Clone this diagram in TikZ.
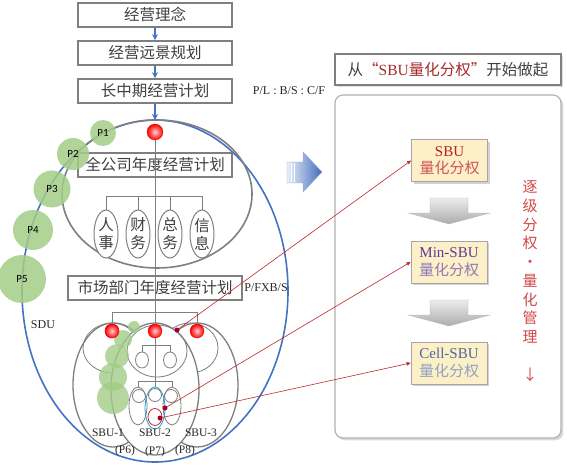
\documentclass[tikz,border=0pt]{standalone}
\usepackage{fontspec}
\setmainfont{Liberation Serif}
\newfontfamily\cjk{Noto Sans CJK SC}
\newfontfamily\lbl{Carlito}
\usetikzlibrary{shapes.geometric,shadows,arrows.meta}

\definecolor{boxgray}{HTML}{7F7F7F}
\definecolor{txtgray}{HTML}{404040}
\definecolor{sdublue}{HTML}{4472C4}
\definecolor{pgreen}{HTML}{A3CC87}
\definecolor{linkred}{HTML}{C0272D}
\definecolor{dotred}{HTML}{A50021}
\definecolor{cream}{HTML}{FDEFC8}
\definecolor{titlered}{HTML}{A52A2A}
\definecolor{sbured}{HTML}{B42323}
\definecolor{sbupink}{HTML}{D05555}
\definecolor{minpurple}{HTML}{5B3C99}
\definecolor{minlilac}{HTML}{8C7AB8}
\definecolor{cellblue}{HTML}{4A6A9A}
\definecolor{cellgray}{HTML}{8FA2BF}
\definecolor{stepred}{HTML}{D04A4A}

\tikzset{
  planbox/.style={draw=boxgray, line width=1.6pt, fill=white, minimum width=154pt,
    minimum height=24pt, inner sep=0pt, text=txtgray, font=\cjk\fontsize{15.5}{18}\selectfont},
  flow/.style={sdublue, line width=1.5pt, -{Stealth[length=6pt,width=6pt]}},
  dept/.style={ellipse, draw=boxgray, line width=1pt, fill=white, minimum width=24pt,
    minimum height=48pt, inner sep=0pt, align=center, text=txtgray,
    font=\cjk\fontsize{15.5}{18}\selectfont},
  tree/.style={draw=boxgray, line width=0.8pt},
  sbuline/.style={draw=boxgray, line width=1.3pt},
  reddot/.style={circle, minimum size=#1, inner sep=0pt, shading=radial,
    inner color=white!80!red, outer color=red, draw=red!85!black, line width=0.3pt},
  keydot/.style={circle, fill=dotred, minimum size=5pt, inner sep=0pt},
  pcircle/.style={circle, fill=pgreen, fill opacity=0.85, text opacity=1, minimum size=#1,
    inner sep=0pt, font=\lbl\fontsize{11}{11}\selectfont},
  tag/.style={inner sep=0pt, text=black!85, font=\fontsize{12}{12}\selectfont},
  unitbox/.style={draw=gray!70, fill=cream, line width=0.8pt, minimum width=76pt,
    minimum height=42pt, inner sep=0pt, align=center, font=\fontsize{15}{17.5}\selectfont,
    drop shadow={opacity=0.35}},
  link/.style={linkred, line width=0.6pt, -{Triangle[length=4pt,width=3.5pt]}},
}

\begin{document}
\begin{tikzpicture}[x=1pt,y=-1pt]
\useasboundingbox (0,0) rectangle (567,465);

% SDU and company plan
\draw[sdublue, line width=1.6pt] (155,291) ellipse [x radius=133, y radius=171];
\draw[boxgray, line width=1.6pt] (157,194) ellipse [x radius=95, y radius=74];
\coordinate (corptop) at (155,120);

\node[planbox] (idea) at (155,15) {经营理念};
\node[planbox] (vision) at (155,53) {经营远景规划};
\node[planbox] (midplan) at (155,91) {长中期经营计划};
\node[planbox] (corpplan) at (155,165) {全公司年度经营计划};
\node[planbox, minimum width=174pt] (mktplan) at (155,288) {市场部门年度经营计划};

\node[tag] (plbs) at (289,91) {P/L : B/S : C/F};
\node[tag] (pfxb) at (266,288) {P/FXB/S};
\node[tag] (sdu) at (43,325) {SDU};

\draw[flow] (idea) -- (vision);
\draw[flow] (vision) -- (midplan);
\draw[flow] (midplan) -- (corptop);

\node[dept] (hr) at (106,234) {人\\事};
\node[dept] (fin) at (138,234) {财\\务};
\node[dept] (gen) at (170,234) {总\\务};
\node[dept] (info) at (202,234) {信\\息};
\draw[tree] (hr.north) -- ++(0,-13) -| (info.north);
\draw[tree] (fin.north) -- ++(0,-13);
\draw[tree] (gen.north) -- ++(0,-13);

% SBU ellipses
\filldraw[sbuline, fill=white] (113,385) ellipse [x radius=40, y radius=62];
\filldraw[sbuline, fill=white] (197,385) ellipse [x radius=41, y radius=62];
\draw[tree] (113,348) ellipse [x radius=30, y radius=25];
\draw[tree] (190,348) ellipse [x radius=28, y radius=25];
\filldraw[sbuline, fill=white] (155,389) ellipse [x radius=44, y radius=66];
\draw[tree] (157,351) ellipse [x radius=30, y radius=26];

\node[reddot=16pt] (top) at (155,132) {};
\node[reddot=14pt] (s1) at (112,331) {};
\node[reddot=14pt] (s2) at (155,331) {};
\node[reddot=14pt] (s3) at (197,331) {};
\draw[tree] (top) -- (s2);
\draw[tree] (s1.north) -- ++(0,-11) -| (s3.north);

% inside SBU-2
\node[ellipse, tree, minimum width=13pt, minimum height=16pt, inner sep=0pt] (u1) at (142,360) {};
\node[ellipse, tree, minimum width=13pt, minimum height=16pt, inner sep=0pt] (u2) at (170,360) {};
\draw[tree] (u1.north) -- ++(0,-6) -| (u2.north);
\node[ellipse, tree, minimum width=18pt, minimum height=38pt, inner sep=0pt] (l1) at (138,406) {};
\node[ellipse, tree, minimum width=18pt, minimum height=38pt, inner sep=0pt] (l3) at (172,406) {};
\node[ellipse, draw=cyan!70!teal, line width=0.8pt, minimum width=20pt, minimum height=42pt, inner sep=0pt] (l2) at (155,408) {};
\draw[tree] (l1.north) -- ++(0,-5) -| (l3.north);
\draw[tree] (s2) -- (l2.north);
\draw[tree] (139,396) circle (6.5);
\draw[tree] (155,395) circle (6.5);
\draw[tree] (171,396) circle (6.5);
\draw[linkred, line width=0.8pt] (155,417) ellipse [x radius=7, y radius=8.5];

% P circles
\node[pcircle=26pt] (p1) at (103,133) {P1};
\node[pcircle=32pt] (p2) at (73,154) {P2};
\node[pcircle=37pt] (p3) at (52,189) {P3};
\node[pcircle=40pt] (p4) at (33,230) {P4};
\node[pcircle=48pt] (p5) at (22,279) {P5};
\foreach \gx/\gy/\gr in {134/327/6, 123/339/9, 117/356/12, 113/377/14, 113/398/16}
  \fill[pgreen, opacity=0.8] (\gx,\gy) circle (\gr);
\node[reddot=14pt] at (s1) {};

\node[keydot] (k1) at (177,330) {};
\node[keydot] (k2) at (165,408) {};
\node[keydot] (k3) at (160,418) {};

\node[tag, font=\fontsize{11.5}{12}\selectfont] (sbu1) at (108,433) {SBU-1};
\node[tag, font=\fontsize{11.5}{12}\selectfont] (sbu2) at (155,433) {SBU-2};
\node[tag, font=\fontsize{11.5}{12}\selectfont] (sbu3) at (201,433) {SBU-3};
\node[tag, font=\fontsize{11.5}{12}\selectfont] (p6) at (125,451) {(P6)};
\node[tag, font=\fontsize{11.5}{12}\selectfont] (p7) at (155,452) {(P7)};
\node[tag, font=\fontsize{11.5}{12}\selectfont] (p8) at (185,451) {(P8)};

% blue arrow
\shade[left color=sdublue!12, right color=sdublue!95!black, draw=sdublue!60, line width=0.4pt]
  (287,162) -- (303,162) -- (303,152) -- (322,172) -- (303,192) -- (303,183) -- (287,183) -- cycle;
\draw[white, line width=0.8pt] (291,163) -- (291,182) (294,163) -- (294,182);

% right panel
\node[draw=boxgray, line width=1.6pt, fill=white, minimum width=226pt, minimum height=31pt,
  inner sep=0pt, text=txtgray, font=\cjk\fontsize{15.5}{18}\selectfont, drop shadow={opacity=0.25}] (head)
  at (448,69.5) {从{\color{titlered}“{\rmfamily SBU}量化分权”}开始做起};
\node[draw=gray!60, line width=1.2pt, fill=white, rounded corners=8pt, minimum width=226pt,
  minimum height=343pt, drop shadow={opacity=0.3}] (panel) at (448,266.5) {};

\node[unitbox] (sbu) at (449.5,160.5)
  {{\color{sbured}SBU}\\{\color{sbupink}\cjk 量化分权}};
\node[unitbox] (minsbu) at (449,262)
  {{\color{minpurple}Min-SBU}\\{\color{minlilac}\cjk 量化分权}};
\node[unitbox] (cellsbu) at (449,363)
  {{\color{cellblue}Cell-SBU}\\{\color{cellgray}\cjk 量化分权}};

\shade[top color=gray!15, bottom color=gray!65, draw=gray!55, line width=0.3pt]
  (430,198) -- (468,198) -- (468,213) -- (490,213) -- (449,224) -- (408,213) -- (430,213) -- cycle;
\shade[top color=gray!15, bottom color=gray!65, draw=gray!55, line width=0.3pt]
  (430,300) -- (468,300) -- (468,315) -- (490,315) -- (449,326) -- (408,315) -- (430,315) -- cycle;

\node[inner sep=0pt, align=center, text=stepred, font=\cjk\fontsize{15}{18.75}\selectfont] (steps)
  at (530,262) {逐\\级\\分\\权\\·\\量\\化\\管\\理};
\node[inner sep=0pt, text=stepred, font=\cjk\fontsize{15}{18}\selectfont] (stepdown) at (530,375) {↓};

% links
\draw[link] (k1) -- (sbu.west);
\draw[link] (k2) -- (minsbu.west);
\draw[link] (k3) -- (cellsbu.west);
\end{tikzpicture}
\end{document}
